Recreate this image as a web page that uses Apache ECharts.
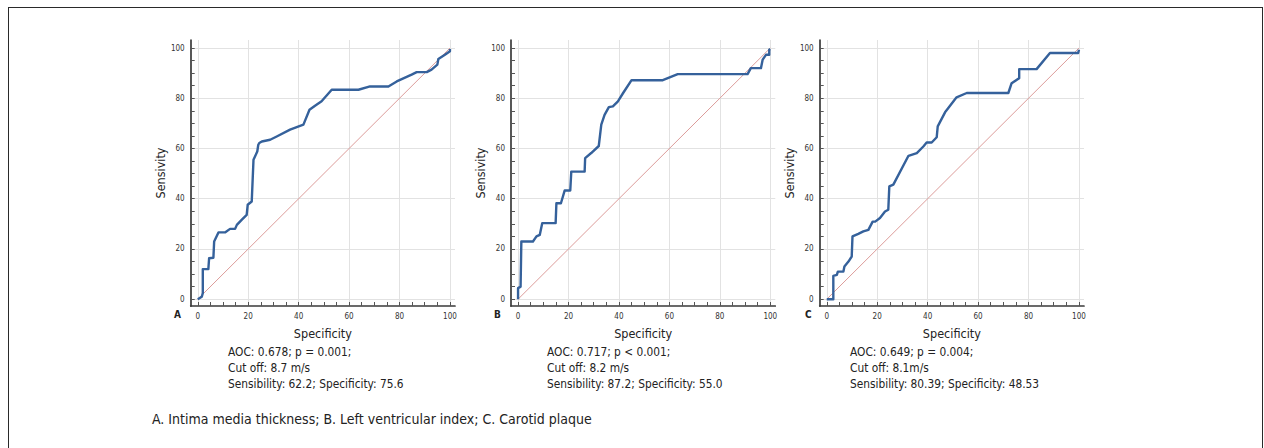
<!DOCTYPE html>
<html><head><meta charset="utf-8">
<script src="https://cdn.jsdelivr.net/npm/echarts@6/dist/echarts.min.js"></script>
<style>
html,body{margin:0;padding:0;background:#fff;overflow:hidden;}
#chart{position:absolute;left:0;top:0;width:1264px;height:448px;}
#frame{position:absolute;left:8px;top:7px;width:1255px;height:470px;border:1.5px solid #2a2a2a;border-bottom:none;box-sizing:border-box;}
</style></head><body>
<div id="chart"></div><div id="frame"></div>
<script>
// ---- data ----
const majorTicks = [0, 20, 40, 60, 80, 100];
const minorTicks = [0,5,10,15,20,25,30,35,40,45,50,55,60,65,70,75,80,85,90,95,100];
const diagX = [0, 100];
const diagY = [0, 100];

const specA = [0,1.6,2,2,4.2,4.5,6.2,6.5,8.2,10.8,12.8,14.8,15.5,17.4,19.4,19.8,21.4,22.1,23.6,24,24.4,25.4,28.7,31.3,36.6,41.9,44.3,46.5,49.1,53.1,63.7,68.3,75.6,78.9,84.8,86.8,90.8,92.7,95,95.4,98,100,100];
const sensA = [0,1,2.4,12,12,16.3,16.5,23,26.6,26.6,28,28,29.6,31.6,33.6,37.6,38.9,55.5,58.8,61.5,62.2,62.8,63.5,64.8,67.5,69.5,75.4,77,78.8,83.4,83.4,84.7,84.7,86.7,89.4,90.4,90.4,91.4,93.4,95.6,97.3,98.7,99.6];

const specB = [0,0,0.7,1,1.3,5.9,7.3,8.6,9.6,14.9,15.2,17,18.5,20.7,21.1,26.4,26.6,29,32,33,34.3,36,37.6,39.6,41.6,45,57.4,63.3,91,92.3,96.3,97,98.3,99.6,99.6,100];
const sensB = [0,4.4,4.8,5,23,23,25,25.6,30.3,30.3,38.2,38.2,43.3,43.3,50.8,50.8,56.2,58.2,61,69.5,73.4,76.5,76.8,78.8,82,87.2,87.2,89.6,89.6,92,92,95.4,97.3,97.3,99.3,99.6];

const specC = [0,2.6,2.6,4,4.4,6.6,7,8.6,9.9,10.2,12.5,14.5,16.5,18.2,19.2,21.1,23.1,24.4,24.8,26.4,32.4,35.7,38.3,39.6,41.6,43.6,44,46.9,51.47,55.5,72,73.3,76.3,76.3,83.2,88.5,99.7,100];
const sensC = [0,0,9.3,9.7,11,11,13,15,17,25,26,27,27.6,30.9,30.9,32.3,34.9,35.6,44.9,45.6,57.1,58.2,60.8,62.4,62.4,64.5,68.8,74.4,80.39,82.1,82.1,86,88,91.6,91.6,98,98,99.3];

const panelLetters = ['A', 'B', 'C'];
const statLines = [
  'AOC: 0.678; p = 0.001;\nCut off: 8.7 m/s\nSensibility: 62.2; Specificity: 75.6',
  'AOC: 0.717; p < 0.001;\nCut off: 8.2 m/s\nSensibility: 87.2; Specificity: 55.0',
  'AOC: 0.649; p = 0.004;\nCut off: 8.1m/s\nSensibility: 80.39; Specificity: 48.53'
];
const caption = 'A. Intima media thickness; B. Left ventricular index; C. Carotid plaque';
const xName = 'Specificity';
const yName = 'Sensivity';

// ---- layout ----
const FONT = "'Liberation Sans Narrow','Arial Narrow','DejaVu Sans Condensed',sans-serif";
const gridLeft = [190.7, 511, 819.7];
const statLeft = [228, 547, 850];
const letterLeft = [174, 494, 805];
const AX = {min: -2.8, max: 102};
const AY = {min: -2.7, max: 103.2};
const specs = [specA, specB, specC];
const senss = [sensA, sensB, sensC];

const zip = (xs, ys) => xs.map((v, i) => [v, ys[i]]);

const grids = [], xAxes = [], yAxes = [], series = [], titles = [];
for (let i = 0; i < 3; i++) {
  grids.push({left: gridLeft[i], top: 40, width: 264.3, height: 266});
  const lineStyle = {color: '#3a3a3a', width: 1.7};
  xAxes.push({
    gridIndex: i, type: 'value', min: AX.min, max: AX.max, position: 'bottom',
    axisLine: {show: true, onZero: false, lineStyle},
    axisTick: {show: true, inside: true, length: 4, customValues: minorTicks, lineStyle: {color: '#555', width: 1}},
    axisLabel: {customValues: majorTicks, fontSize: 8, color: '#333', margin: 6, fontFamily: FONT},
    splitLine: {show: false},
    name: xName, nameLocation: 'middle', nameGap: 21,
    nameTextStyle: {fontSize: 12.5, color: '#222', fontFamily: FONT}
  });
  xAxes.push({
    gridIndex: i, type: 'value', min: AX.min, max: AX.max, position: 'bottom',
    axisLine: {show: false, onZero: false},
    axisTick: {show: false, customValues: majorTicks},
    axisLabel: {show: false, customValues: majorTicks},
    splitLine: {show: true, lineStyle: {color: '#e2e2e2', width: 1}}
  });
  yAxes.push({
    gridIndex: i, type: 'value', min: AY.min, max: AY.max, position: 'left',
    axisLine: {show: true, onZero: false, lineStyle},
    axisTick: {show: true, inside: true, length: 4, customValues: minorTicks, lineStyle: {color: '#555', width: 1}},
    axisLabel: {customValues: majorTicks, fontSize: 8, color: '#333', margin: 6, fontFamily: FONT},
    splitLine: {show: false},
    name: yName, nameLocation: 'middle', nameGap: 24, nameRotate: 90,
    nameTextStyle: {fontSize: 12.5, color: '#222', fontFamily: FONT}
  });
  yAxes.push({
    gridIndex: i, type: 'value', min: AY.min, max: AY.max, position: 'left',
    axisLine: {show: false, onZero: false},
    axisTick: {show: false, customValues: majorTicks},
    axisLabel: {show: false, customValues: majorTicks},
    splitLine: {show: true, lineStyle: {color: '#e2e2e2', width: 1}}
  });
  series.push({
    type: 'line', xAxisIndex: 2 * i, yAxisIndex: 2 * i, data: zip(diagX, diagY),
    symbol: 'none', silent: true, lineStyle: {color: '#dc9c9a', width: 1}, z: 2
  });
  series.push({
    type: 'line', xAxisIndex: 2 * i, yAxisIndex: 2 * i, data: zip(specs[i], senss[i]),
    symbol: 'none', silent: true, lineStyle: {color: '#35619b', width: 2.4, join: 'round'}, z: 3
  });
  titles.push({
    text: panelLetters[i], left: letterLeft[i], top: 309, padding: 0,
    textStyle: {fontSize: 10, fontWeight: 'bold', color: '#222', fontFamily: FONT}
  });
  titles.push({
    text: statLines[i], left: statLeft[i], top: 344, padding: 0,
    textStyle: {fontSize: 11.8, lineHeight: 16, fontWeight: 'normal', color: '#222', fontFamily: FONT}
  });
}
titles.push({
  text: caption, left: 152, top: 411, padding: 0,
  textStyle: {fontSize: 14, lineHeight: 16, fontWeight: 'normal', color: '#222', fontFamily: FONT}
});

const chart = echarts.init(document.getElementById('chart'), null, {renderer: 'svg'});
chart.setOption({
  animation: false,
  backgroundColor: '#fff',
  title: titles,
  grid: grids,
  xAxis: xAxes,
  yAxis: yAxes,
  series: series
});
</script>
</body></html>
